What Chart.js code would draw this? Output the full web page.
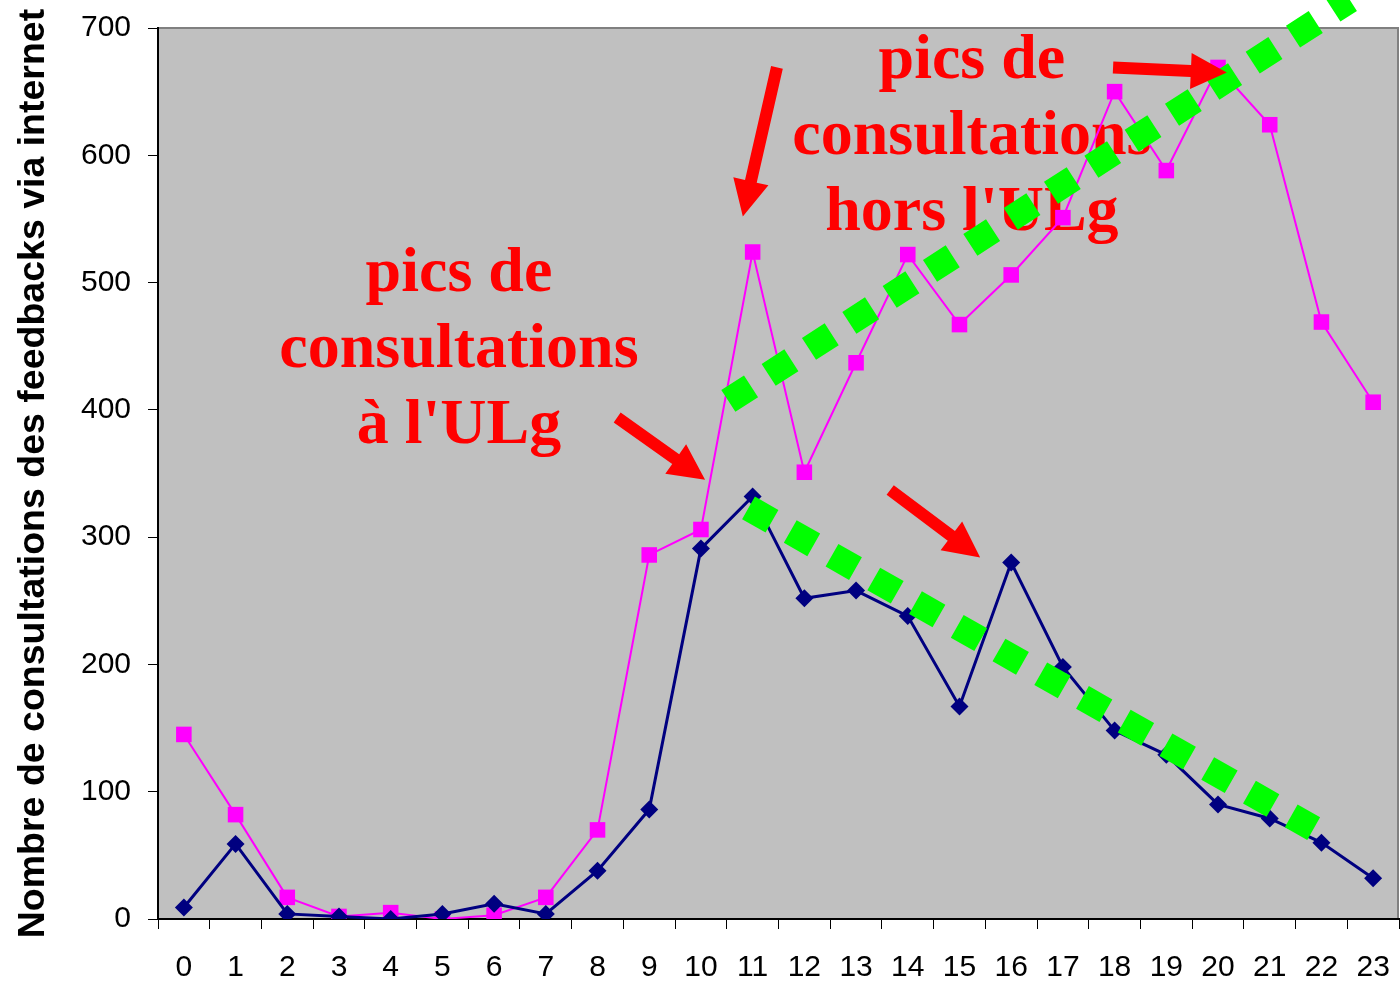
<!DOCTYPE html>
<html>
<head>
<meta charset="utf-8">
<script src="https://cdn.jsdelivr.net/npm/chart.js@4/dist/chart.umd.min.js"></script>
<style>
  body { margin: 0; background: #fff; }
  canvas { display: block; }
</style>
</head>
<body>
<canvas id="chart" width="1400" height="982"></canvas>
<script>
// hours of the day
const hours = ['0', '1', '2', '3', '4', '5', '6', '7', '8', '9', '10', '11',
  '12', '13', '14', '15', '16', '17', '18', '19', '20', '21', '22', '23'];

// consultations from inside the university (navy diamonds)
const insideUlg = [9, 59, 4, 2, 0, 4, 12, 4, 38, 86, 291, 332,
  252, 258, 238, 167, 280, 198, 148, 129, 90, 79, 60, 32];

// consultations from outside (magenta squares)
const outsideUlg = [145, 82, 17, 2, 5, 0, 3, 17, 70, 286, 306, 524,
  351, 437, 522, 467, 506, 551, 650, 588, 669, 624, 469, 406];

const yTicks = [0, 100, 200, 300, 400, 500, 600, 700];

// hand-drawn trend lines (hour, value)
const trendUp = [{ x: 10.53, y: 407 }, { x: 22.55, y: 722 }];
const trendDown = [{ x: 10.92, y: 323 }, { x: 21.85, y: 71 }];

// arrows: [tail hour, tail value, tip hour, tip value]
const arrows = [
  [11.47, 669, 10.81, 552],
  [8.38, 394, 10.08, 345],
  [13.66, 337, 15.40, 284],
  [17.97, 669, 20.17, 665]
];

// text notes, anchored at the baseline of the first line
const notes = [
  { x: 5.32, y: 493, lines: ['pics de', 'consultations', "à l'ULg"] },
  { x: 15.24, y: 661, lines: ['pics de', 'consultations', "hors l'ULg"] }
];

const tickFont = { family: "'Liberation Sans', Arial, sans-serif", size: 30 };

const plotBackground = {
  id: 'plotBackground',
  beforeDraw(chart) {
    const { ctx, chartArea: a } = chart;
    ctx.save();
    ctx.fillStyle = '#C0C0C0';
    ctx.fillRect(a.left, a.top, a.right - a.left, a.bottom - a.top);
    ctx.strokeStyle = '#808080';
    ctx.lineWidth = 2;
    ctx.beginPath();
    ctx.moveTo(a.left, a.top);
    ctx.lineTo(a.right - 1, a.top);
    ctx.lineTo(a.right - 1, a.bottom);
    ctx.stroke();
    ctx.restore();
  }
};

const notesPlugin = {
  id: 'notes',
  beforeDatasetsDraw(chart) {
    const { ctx, scales } = chart;
    ctx.save();
    ctx.fillStyle = '#FF0000';
    ctx.font = "bold 64px 'Liberation Serif', 'Times New Roman', serif";
    ctx.textAlign = 'center';
    ctx.textBaseline = 'alphabetic';
    notes.forEach(n => {
      const px = scales.xt.getPixelForValue(n.x);
      const py = scales.y.getPixelForValue(n.y);
      n.lines.forEach((t, i) => ctx.fillText(t, px, py + i * 76));
    });
    ctx.restore();
  }
};

const arrowsPlugin = {
  id: 'arrows',
  afterDatasetsDraw(chart) {
    const { ctx, scales } = chart;
    const shaft = 12, headLen = 36, headW = 36;
    ctx.save();
    ctx.fillStyle = '#FF0000';
    arrows.forEach(([x0, y0, x1, y1]) => {
      const ax = scales.xt.getPixelForValue(x0), ay = scales.y.getPixelForValue(y0);
      const bx = scales.xt.getPixelForValue(x1), by = scales.y.getPixelForValue(y1);
      const len = Math.hypot(bx - ax, by - ay);
      const ux = (bx - ax) / len, uy = (by - ay) / len;
      const nx = -uy, ny = ux;
      const hx = bx - ux * headLen, hy = by - uy * headLen;
      ctx.beginPath();
      ctx.moveTo(ax + nx * shaft / 2, ay + ny * shaft / 2);
      ctx.lineTo(hx + nx * shaft / 2, hy + ny * shaft / 2);
      ctx.lineTo(hx + nx * headW / 2, hy + ny * headW / 2);
      ctx.lineTo(bx, by);
      ctx.lineTo(hx - nx * headW / 2, hy - ny * headW / 2);
      ctx.lineTo(hx - nx * shaft / 2, hy - ny * shaft / 2);
      ctx.lineTo(ax - nx * shaft / 2, ay - ny * shaft / 2);
      ctx.closePath();
      ctx.fill();
    });
    ctx.restore();
  }
};

const trendStyle = {
  type: 'line',
  xAxisID: 'xt',
  borderColor: '#00FF00',
  borderWidth: 26,
  borderDash: [27, 21],
  borderCapStyle: 'butt',
  pointRadius: 0,
  fill: false,
  clip: false,
  order: 0
};

new Chart(document.getElementById('chart'), {
  type: 'line',
  data: {
    labels: hours,
    datasets: [
      {
        label: "Hors l'ULg",
        data: outsideUlg,
        borderColor: '#FF00FF',
        backgroundColor: '#FF00FF',
        borderWidth: 2,
        pointStyle: 'rect',
        pointRadius: 11,
        pointBorderWidth: 0,
        tension: 0,
        order: 2
      },
      {
        label: "À l'ULg",
        data: insideUlg,
        borderColor: '#000080',
        backgroundColor: '#000080',
        borderWidth: 3,
        pointStyle: 'rectRot',
        pointRadius: 9,
        pointBorderWidth: 0,
        tension: 0,
        order: 1
      },
      Object.assign({ label: 'trend up', data: trendUp }, trendStyle),
      Object.assign({ label: 'trend down', data: trendDown }, trendStyle)
    ]
  },
  options: {
    responsive: false,
    animation: false,
    layout: { autoPadding: false, padding: { top: 28, right: 1, left: 0, bottom: 0 } },
    plugins: {
      legend: { display: false },
      tooltip: { enabled: false }
    },
    scales: {
      x: {
        type: 'category',
        offset: true,
        grid: { offset: true, drawOnChartArea: false, tickLength: 10, color: '#000' },
        border: { color: '#000', width: 2 },
        ticks: { font: tickFont, color: '#000', padding: 21, maxRotation: 0, autoSkip: false },
        afterFit(scale) {
          scale.height = 63;
          scale.paddingLeft = 0;
          scale.paddingRight = 0;
        }
      },
      xt: {
        type: 'linear',
        display: false,
        min: -0.5,
        max: 23.5
      },
      y: {
        min: 0,
        max: 700,
        afterBuildTicks(scale) { scale.ticks = yTicks.map(v => ({ value: v })); },
        grid: { drawOnChartArea: false, tickLength: 10, color: '#000' },
        border: { color: '#000', width: 2 },
        ticks: { font: tickFont, color: '#000', padding: 17 },
        title: {
          display: true,
          text: 'Nombre de consultations des feedbacks via internet',
          color: '#000',
          font: { family: "'Liberation Sans', Arial, sans-serif", size: 37.5, weight: 'bold', lineHeight: 1 },
          padding: { top: 15, bottom: 0 }
        },
        afterFit(scale) {
          scale.width = 158;
          scale.paddingTop = 0;
          scale.paddingBottom = 0;
        }
      }
    }
  },
  plugins: [plotBackground, notesPlugin, arrowsPlugin]
});
</script>
</body>
</html>
